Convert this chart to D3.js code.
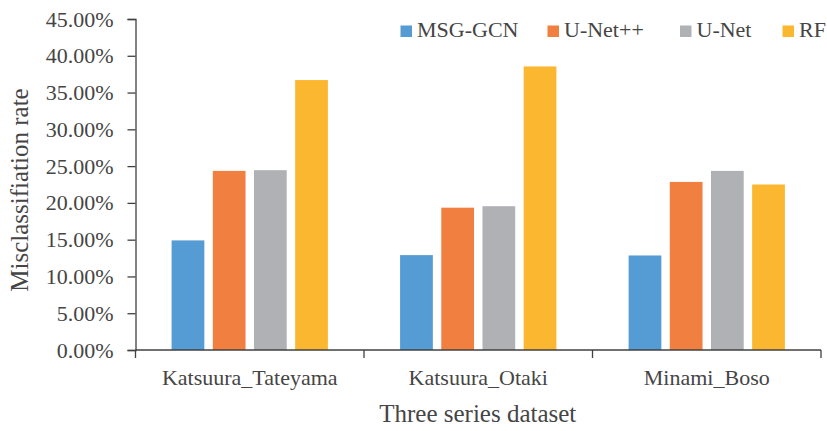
<!DOCTYPE html>
<html>
<head>
<meta charset="utf-8">
<script src="https://cdn.jsdelivr.net/npm/d3@7/dist/d3.min.js"></script>
<style>
  html, body { margin: 0; padding: 0; background: #fff; }
  svg { display: block; }
  svg text { font-family: "Liberation Serif", "DejaVu Serif", serif !important; fill: #454545; }
</style>
</head>
<body>
<svg id="chart" width="827" height="431" font-family="Liberation Serif"></svg>
<script>
// Datasets along the x axis
const categories = ["Katsuura_Tateyama", "Katsuura_Otaki", "Minami_Boso"];
// Methods compared
const seriesNames = ["MSG-GCN", "U-Net++", "U-Net", "RF"];
// Misclassification rate (%) per method, one value per dataset
const msgGcn = [14.9, 12.9, 12.85];
const uNetPP = [24.35, 19.35, 22.85];
const uNet   = [24.45, 19.55, 24.35];
const rf     = [36.7, 38.55, 22.5];
const yTicks = [0, 5, 10, 15, 20, 25, 30, 35, 40, 45];
const colors = ["#559BD4", "#F17F3F", "#B0B1B5", "#FCB731"];

const seriesValues = [msgGcn, uNetPP, uNet, rf];
const serif = "Liberation Serif";

const svg = d3.select("#chart");
const plotLeft = 135.5, plotRight = 821, plotTop = 19, plotBottom = 350;

const x0 = d3.scaleBand().domain(categories).range([plotLeft, plotRight]).padding(0);
const outer = x0.bandwidth() * 0.158;
const x1 = d3.scaleBand().domain(seriesNames)
  .range([outer, x0.bandwidth() - outer]).paddingInner(0.205).paddingOuter(0);
const y = d3.scaleLinear().domain([0, 45]).range([plotBottom, plotTop]);

// Bars
const groups = svg.append("g").selectAll("g")
  .data(categories)
  .join("g")
  .attr("transform", d => `translate(${x0(d)},0)`);

groups.selectAll("rect")
  .data((c, ci) => seriesNames.map((s, si) => ({ s, si, v: seriesValues[si][ci] })))
  .join("rect")
  .attr("x", d => x1(d.s))
  .attr("width", x1.bandwidth())
  .attr("y", d => y(d.v))
  .attr("height", d => y(0) - y(d.v))
  .attr("fill", d => colors[d.si]);

// Y axis
const yAxis = d3.axisLeft(y).tickValues(yTicks)
  .tickFormat(d => d.toFixed(2) + "%").tickSize(8).tickPadding(14);
const gy = svg.append("g").attr("transform", `translate(${plotLeft},0)`).call(yAxis)
  .attr("font-family", serif).attr("font-size", 22);
gy.select(".domain").attr("stroke", "#404040").attr("stroke-width", 1.3);
gy.selectAll(".tick line").attr("stroke", "#404040").attr("stroke-width", 1.3);
gy.selectAll(".tick text").attr("font-family", serif).attr("font-size", 22);

// X axis with ticks between categories
const gx = svg.append("g").attr("transform", `translate(0,${plotBottom})`);
gx.append("line").attr("x1", plotLeft).attr("x2", plotRight)
  .attr("stroke", "#404040").attr("stroke-width", 1.3);
const bounds = categories.map(c => x0(c)).concat([plotRight]);
gx.selectAll("line.sep").data(bounds).join("line").attr("class", "sep")
  .attr("x1", d => d).attr("x2", d => d).attr("y1", 0).attr("y2", 8)
  .attr("stroke", "#404040").attr("stroke-width", 1.3);
gx.selectAll("text.cat").data(categories).join("text").attr("class", "cat")
  .attr("x", d => x0(d) + x0.bandwidth() / 2)
  .attr("y", 35)
  .attr("text-anchor", "middle")
  .attr("font-family", serif).attr("font-size", 22)
  .text(d => d);

// Axis titles
svg.append("text")
  .attr("x", (plotLeft + plotRight) / 2 - 0.5)
  .attr("y", 421.5)
  .attr("text-anchor", "middle")
  .attr("font-family", serif).attr("font-size", 25)
  .text("Three series dataset");

svg.append("text")
  .attr("transform", `translate(28,190) rotate(-90)`)
  .attr("text-anchor", "middle")
  .attr("font-family", serif).attr("font-size", 25)
  .text("Misclassifiation rate");

// Legend
const legendX = [400.5, 547.5, 680, 782.5];
const legend = svg.append("g").selectAll("g")
  .data(seriesNames)
  .join("g")
  .attr("transform", (d, i) => `translate(${legendX[i]},0)`);
legend.append("rect")
  .attr("x", 0).attr("y", 25.5).attr("width", 11.5).attr("height", 11.5)
  .attr("fill", (d, i) => colors[i]);
legend.append("text")
  .attr("x", 16.5).attr("y", 36.5)
  .attr("font-family", serif).attr("font-size", 22)
  .text(d => d);
</script>
</body>
</html>
